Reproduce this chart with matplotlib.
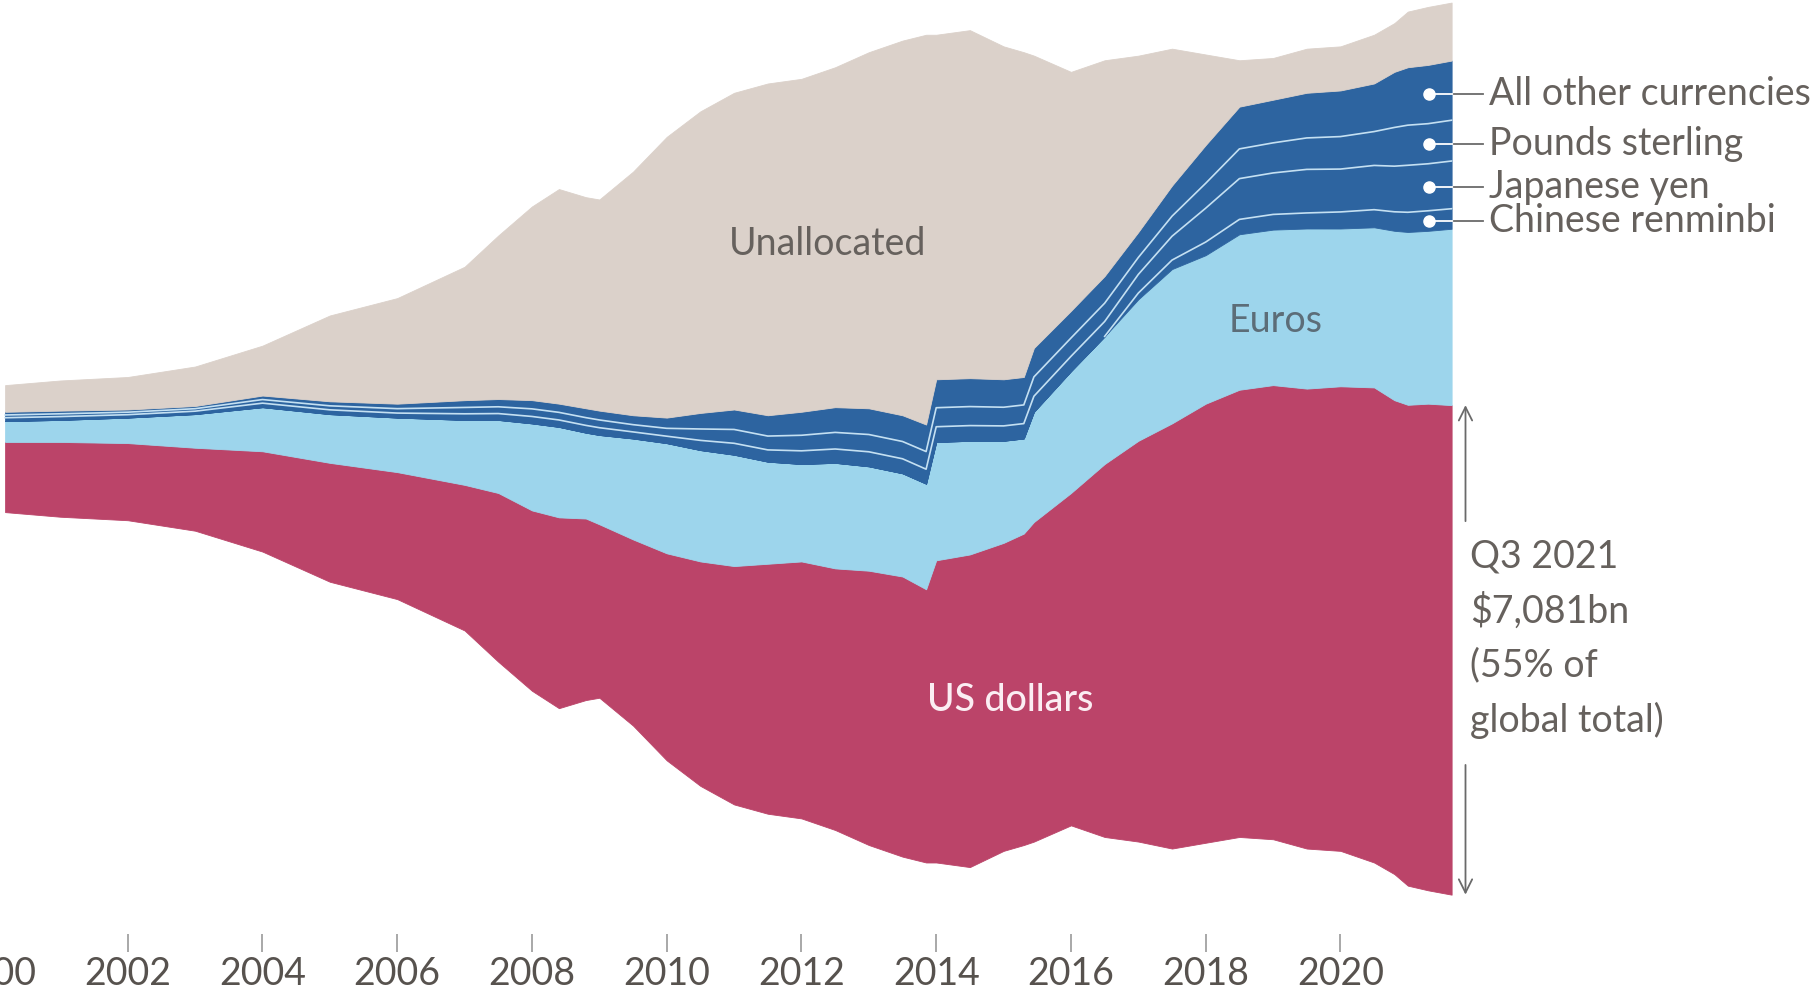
import numpy as np
import matplotlib.pyplot as plt

plt.rcParams['font.family'] = ['Lato', 'DejaVu Sans']

# quarterly-ish sample points, $bn
t = [2000.18, 2001, 2002, 2003, 2004, 2005, 2006, 2007, 2007.5, 2008, 2008.4, 2008.8,
     2009, 2009.5, 2010, 2010.5, 2011, 2011.5, 2012, 2012.5, 2013, 2013.5, 2013.85,
     2014.0, 2014.5, 2015.0, 2015.3, 2015.45, 2016, 2016.5, 2017, 2017.5, 2018,
     2018.5, 2019, 2019.5, 2020, 2020.5, 2020.8, 2021, 2021.3, 2021.65]

usd = [1015, 1082, 1116, 1200, 1451, 1720, 1837, 2106, 2441, 2609, 2760, 2626,
       2509, 2693, 2995, 3247, 3448, 3616, 3717, 3784, 3968, 4052, 3952,
       4371, 4522, 4455, 4505, 4623, 4807, 5395, 5797, 6150, 6351,
       6469, 6569, 6653, 6720, 6872, 6855, 6955, 7039, 7081]
euro = [302, 319, 369, 487, 638, 705, 789, 940, 1057, 1259, 1309, 1242,
        1292, 1460, 1594, 1611, 1611, 1477, 1410, 1527, 1510, 1493, 1527,
        1712, 1644, 1477, 1376, 1594, 1762, 1846, 2047, 2232, 2148,
        2249, 2249, 2316, 2282, 2316, 2450, 2500, 2500, 2551]
cny = [0] * 30 + [90, 130, 190, 215, 220, 225, 240, 255, 275, 285, 290, 290]
yen = [48, 48, 42, 42, 58, 62, 65, 88, 92, 100, 100, 105,
       105, 95, 100, 140, 165, 170, 190, 200, 210, 210, 210,
       220, 220, 215, 215, 225, 215, 215, 270, 345, 490,
       590, 600, 630, 620, 640, 660, 680, 680, 690]
gbp = [40, 40, 36, 36, 52, 58, 64, 92, 98, 110, 110, 112,
       112, 105, 114, 165, 200, 200, 225, 240, 250, 250, 255,
       275, 275, 270, 270, 280, 265, 265, 245, 290, 360,
       430, 435, 455, 470, 490, 560, 580, 580, 590]
other = [46, 46, 39, 39, 58, 65, 72, 105, 112, 126, 126, 135,
         135, 136, 155, 232, 289, 301, 340, 365, 379, 379, 391,
         411, 411, 404, 404, 418, 393, 393, 368, 443, 554,
         611, 624, 653, 667, 696, 804, 838, 850, 863]
unalloc = [386, 436, 470, 571, 722, 1242, 1527, 1930, 2366, 2802, 3104, 3054,
           3054, 3524, 4061, 4363, 4581, 4799, 4816, 4917, 5151, 5420, 5638,
           4984, 5034, 4816, 4698, 4229, 3457, 3121, 2551, 1980, 1309,
           671, 604, 638, 638, 705, 705, 805, 839, 839]

tick_years = list(range(2000, 2021, 2))
side_labels = ['All other currencies', 'Pounds sterling', 'Japanese yen', 'Chinese renminbi']

RED = '#bb4469'
LIGHT = '#9dd5ec'
DARK = '#2d64a0'
SAND = '#dbd1ca'
GREY = '#66615d'

t = np.array(t)
layers = np.array([usd, euro, cny, yen, gbp, other, unalloc], dtype=float)
colors = [RED, LIGHT, DARK, DARK, DARK, DARK, SAND]

# symmetric (ThemeRiver) baseline, like the original
base = -layers.sum(axis=0) / 2
edges = np.vstack([base, base + np.cumsum(layers, axis=0)])

fig = plt.figure(figsize=(18.19, 9.94), dpi=100)
ax = fig.add_axes([-40.7 / 1819, 60 / 994, 1859.5 / 1819, 934 / 994])

for i, c in enumerate(colors):
    ax.fill_between(t, edges[i], edges[i + 1], facecolor=c, edgecolor=c, lw=0.6)

# thin separators inside the dark-blue block
sep = '#c4e0f2'
cny_line = np.where(np.array(cny) > 0, edges[3], np.nan)
cny_line[29] = edges[3][29]
ax.plot(t, cny_line, color=sep, lw=1.2)
ax.plot(t, edges[4], color=sep, lw=1.2)
ax.plot(t, edges[5], color=sep, lw=1.2)

# labels inside the stream
ax.text(2012.38, 2960, 'Unallocated', ha='center', va='center', fontsize=27, color=GREY)
ax.text(2019.04, 1846, 'Euros', ha='center', va='center', fontsize=27, color='#5c6d78')
ax.text(2015.1, -3637, 'US dollars', ha='center', va='center', fontsize=27,
        color='#fbeef3', fontweight='medium')

# right-hand labels for the small currencies
x_dot, x_end = 2021.32, t[-1]
for k, lab in zip([5, 4, 3, 2], side_labels):
    y = (np.interp(x_dot, t, edges[k]) + np.interp(x_dot, t, edges[k + 1])) / 2
    ax.plot([x_dot, x_end], [y, y], color='white', lw=1.3)
    ax.plot([x_dot], [y], 'o', color='white', ms=8)
    ax.plot([x_end + 0.03, 2022.12], [y, y], color='#6a6a6a', lw=1.3)
    ax.text(2022.2, y, lab, ha='left', va='center', fontsize=27, color=GREY)

# dollar bracket
usd_top, usd_bot = edges[1][-1], edges[0][-1]
span = usd_top - usd_bot
x_arr = 2021.856
arrow = dict(arrowstyle='->', color='#6a6a6a', lw=1.3, mutation_scale=24,
             shrinkA=0, shrinkB=0)
ax.annotate('', xy=(x_arr, usd_top), xytext=(x_arr, usd_top - 0.237 * span), arrowprops=arrow)
ax.annotate('', xy=(x_arr, usd_bot), xytext=(x_arr, usd_top - 0.735 * span), arrowprops=arrow)
ax.text(2021.93, usd_top - 0.477 * span, 'Q3 2021\n\\$7,081bn\n(55% of\nglobal total)',
        ha='left', va='center', fontsize=27, color=GREY, linespacing=1.6)

ax.set_xlim(1999.5, 2027.1)
ax.set_ylim(-7021, 6489)
ax.set_xticks(tick_years)
ax.set_yticks([])
ax.tick_params(axis='x', length=13, width=1.2, color='#9a9a9a', pad=3,
               labelsize=27, labelcolor='#57524e')
for s in ax.spines.values():
    s.set_visible(False)
ax.patch.set_alpha(0)

fig.savefig('out.png', dpi=100)
